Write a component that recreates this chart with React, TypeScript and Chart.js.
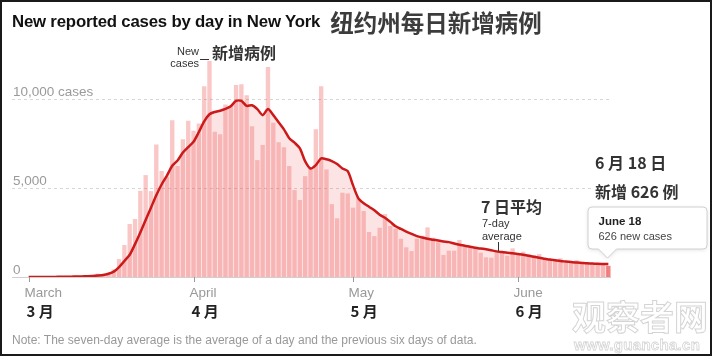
import React, { useEffect, useRef } from 'react';
import { Chart, registerables } from 'chart.js';

Chart.register(...registerables);

// ---------- data ----------
const monthNames: string[] = ['Mar', 'Apr', 'May', 'Jun'];
const monthDayCounts: number[] = [31, 30, 31, 18];
const monthLabelsEn: string[] = ['March', 'April', 'May', 'June'];
const monthLabelsZh: string[] = ['3 月', '4 月', '5 月', '6 月'];

const newCases: number[] = [
  0, 0, 1, 9, 11, 22, 45, 17, 36, 31,
  44, 108, 95, 190, 122, 218, 430, 1010, 1800, 2980,
  3260, 4850, 5730, 4830, 7450, 5960, 5640, 8820, 6240, 7750,
  8780, 8220, 8630, 10730, 12150, 8160, 8020, 9700, 9570, 10790,
  10840, 10220, 8480, 6570, 7415, 11810, 8670, 7570, 7290, 6240,
  4890, 4330, 5670, 6100, 8310, 10730, 6050, 4100, 3300, 4740,
  4700, 3900, 4420, 3710, 2530, 2300, 2770, 3540, 2870, 2720,
  2150, 1670, 1460, 2150, 2320, 2790, 2210, 1950, 1240, 1480,
  1480, 2080, 1780, 1740, 1610, 1370, 1110, 1085, 1420, 1460,
  1200, 1610, 1330, 1420, 1275, 1220, 1290, 1000, 950, 900,
  1050, 900, 800, 950, 850, 800, 780, 750, 700, 626,
];

const sevenDayAvg: number[] = [
  0, 0, 0, 1, 3, 6, 13, 15, 20, 24,
  31, 43, 57, 80, 110, 180, 300, 560, 900, 1250,
  1850, 2500, 3200, 3900, 4600, 5200, 5700, 6250, 6550, 7000,
  7300, 7600, 8150, 8750, 9150, 9280, 9350, 9450, 9600, 9900,
  9900, 9620, 9660, 9440, 9100, 9440, 9100, 8700, 8300, 7800,
  7550, 7230, 6500, 6100, 6290, 6670, 6620, 6520, 6350, 6100,
  5950, 5150, 4420, 4150, 3950, 3750, 3500, 3330, 3100, 2850,
  2700, 2550, 2420, 2300, 2220, 2150, 2100, 2050, 2000, 1960,
  1880, 1810, 1760, 1700, 1650, 1600, 1560, 1500, 1440, 1400,
  1360, 1330, 1290, 1250, 1200, 1140, 1080, 1030, 980, 940,
  900, 870, 840, 810, 790, 770, 760, 740, 735, 730,
];

const yTicks: number[] = [0, 5000, 10000];
const yTickLabels: string[] = ['0', '5,000', '10,000 cases'];

const labels: string[] = [];
monthNames.forEach((m, k) => {
  for (let d = 1; d <= monthDayCounts[k]; d++) labels.push(`${m} ${d}`);
});
const monthStartIdx: number[] = monthNames.map((m) => labels.indexOf(`${m} 1`));

const SANS = '"Liberation Sans", Arial, Helvetica, sans-serif';
const CJK = '"Noto Sans CJK SC", "Noto Sans CJK TC", sans-serif';

const BAR = 'rgba(240,90,90,0.34)';
const BAR_HI = 'rgba(236,80,80,0.72)';
const LINE = '#cc1a1a';
const AREA = 'rgba(240,90,90,0.16)';

const decor = {
  id: 'decor',
  beforeDatasetsDraw(chart: any) {
    const { ctx, chartArea } = chart;
    const y = chart.scales.y;
    ctx.save();
    const left = 12;
    const right = chartArea.right;
    yTicks.forEach((v, k) => {
      const py = Math.round(y.getPixelForValue(v)) + 0.5;
      ctx.beginPath();
      ctx.lineWidth = 1;
      if (v === 0) {
        ctx.setLineDash([]);
        ctx.strokeStyle = '#cfcfcf';
      } else {
        ctx.setLineDash([3, 3]);
        ctx.strokeStyle = '#d6d6d6';
      }
      ctx.moveTo(left, py);
      ctx.lineTo(right, py);
      ctx.stroke();
      ctx.setLineDash([]);
      ctx.fillStyle = '#9a9a9a';
      ctx.font = `13.5px ${SANS}`;
      ctx.textAlign = 'left';
      ctx.textBaseline = 'alphabetic';
      ctx.fillText(yTickLabels[k], left + 1, py - 4);
    });
    ctx.restore();
  },
  afterDatasetsDraw(chart: any) {
    const { ctx } = chart;
    const x = chart.scales.x;
    const y = chart.scales.y;
    const base = Math.round(y.getPixelForValue(0));
    ctx.save();

    // month ticks + labels
    monthStartIdx.forEach((idx, k) => {
      const px = Math.round(x.getPixelForValue(idx)) + 0.5;
      ctx.beginPath();
      ctx.strokeStyle = '#999';
      ctx.lineWidth = 1;
      ctx.moveTo(px, base);
      ctx.lineTo(px, base + 5);
      ctx.stroke();
      ctx.textAlign = 'left';
      ctx.textBaseline = 'middle';
      ctx.fillStyle = '#999';
      ctx.font = `13.5px ${SANS}`;
      ctx.fillText(monthLabelsEn[k], px - 5, base + 16);
      ctx.fillStyle = '#222';
      ctx.font = `bold 15px ${CJK}`;
      ctx.fillText(monthLabelsZh[k], px - 3, base + 34.5);
    });

    // "New cases" annotation
    ctx.fillStyle = '#333';
    ctx.font = `11px ${SANS}`;
    ctx.textAlign = 'right';
    ctx.textBaseline = 'middle';
    ctx.fillText('New', 199, 52);
    ctx.fillText('cases', 199, 64);
    ctx.beginPath();
    ctx.strokeStyle = '#333';
    ctx.moveTo(200, 59.5);
    ctx.lineTo(209, 59.5);
    ctx.stroke();
    ctx.textAlign = 'left';
    ctx.font = `bold 16px ${CJK}`;
    ctx.fillText('新增病例', 212, 53);

    // 7-day average annotation
    const ai = 88;
    const ax = Math.round(x.getPixelForValue(ai)) + 1.5;
    const ay = y.getPixelForValue(sevenDayAvg[ai]);
    ctx.font = `bold 16px ${CJK}`;
    ctx.fillStyle = '#333';
    ctx.fillText('7 日平均', 481, 207);
    ctx.font = `11px ${SANS}`;
    ctx.fillText('7-day', 482, 224);
    ctx.fillText('average', 482, 237);
    ctx.beginPath();
    ctx.moveTo(ax, 242);
    ctx.lineTo(ax, ay);
    ctx.stroke();

    // last day annotation
    const li = newCases.length - 1;
    ctx.font = `bold 16px ${CJK}`;
    const t2 = `新增 ${newCases[li]} 例`;
    const w2 = ctx.measureText(t2).width;
    ctx.fillStyle = '#fff';
    ctx.fillRect(592, 181, w2 + 6, 22);
    ctx.fillStyle = '#333';
    ctx.fillText('6 月 18 日', 595, 163);
    ctx.fillText(t2, 595, 192);

    // tooltip
    const bx = x.getPixelForValue(li);
    const by = y.getPixelForValue(newCases[li]);
    const tipX = Math.round(bx) - 0.5;
    const tipY = Math.round(by) - 8;
    const boxL = tipX - 19.5;
    const boxW = 119;
    const boxB = tipY - 9;
    const boxT = boxB - 42;
    const r = 4;
    ctx.save();
    ctx.beginPath();
    ctx.moveTo(boxL + r, boxT);
    ctx.lineTo(boxL + boxW - r, boxT);
    ctx.quadraticCurveTo(boxL + boxW, boxT, boxL + boxW, boxT + r);
    ctx.lineTo(boxL + boxW, boxB - r);
    ctx.quadraticCurveTo(boxL + boxW, boxB, boxL + boxW - r, boxB);
    ctx.lineTo(tipX + 9, boxB);
    ctx.lineTo(tipX, tipY);
    ctx.lineTo(tipX - 9, boxB);
    ctx.lineTo(boxL + r, boxB);
    ctx.quadraticCurveTo(boxL, boxB, boxL, boxB - r);
    ctx.lineTo(boxL, boxT + r);
    ctx.quadraticCurveTo(boxL, boxT, boxL + r, boxT);
    ctx.closePath();
    ctx.shadowColor = 'rgba(0,0,0,0.12)';
    ctx.shadowBlur = 4;
    ctx.shadowOffsetY = 1;
    ctx.fillStyle = '#fff';
    ctx.fill();
    ctx.shadowColor = 'transparent';
    ctx.strokeStyle = '#d0d0d0';
    ctx.lineWidth = 1;
    ctx.stroke();
    ctx.restore();
    ctx.textAlign = 'left';
    ctx.textBaseline = 'middle';
    ctx.fillStyle = '#222';
    ctx.font = `bold 11.5px ${SANS}`;
    ctx.fillText(labels[li].replace('Jun', 'June'), boxL + 10.5, boxT + 15);
    ctx.fillStyle = '#444';
    ctx.font = `11px ${SANS}`;
    ctx.fillText(`${newCases[li]} new cases`, boxL + 10.5, boxT + 30);

    ctx.restore();
  },
};

export default function App() {
  const canvasRef = useRef<HTMLCanvasElement | null>(null);

  useEffect(() => {
    const canvas = canvasRef.current;
    if (!canvas) return;
    const barColors = newCases.map((_, i) => (i === newCases.length - 1 ? BAR_HI : BAR));
    const chart = new Chart(canvas, {
      type: 'bar',
      data: {
        labels,
        datasets: [
          {
            type: 'line',
            data: sevenDayAvg,
            borderColor: LINE,
            borderWidth: 2.5,
            pointRadius: 0,
            fill: 'origin',
            backgroundColor: AREA,
            tension: 0.25,
            borderJoinStyle: 'round',
            order: 0,
          } as any,
          {
            type: 'bar',
            data: newCases,
            backgroundColor: barColors,
            barPercentage: 0.82,
            categoryPercentage: 1,
            order: 1,
          } as any,
        ],
      },
      options: {
        animation: false,
        responsive: false,
        events: [],
        layout: { padding: { left: 26, right: 101, top: 28, bottom: 79 } },
        scales: {
          x: { display: false, offset: true },
          y: { display: false, min: 0, max: 14000 },
        },
        plugins: {
          legend: { display: false },
          tooltip: { enabled: false },
        },
      },
      plugins: [decor as any],
    });
    return () => chart.destroy();
  }, []);

  return (
    <div style={{ position: 'absolute', left: 0, top: 0, width: 712, height: 356, background: '#fff', overflow: 'hidden' }}>
      <canvas ref={canvasRef} width={712} height={356} style={{ position: 'absolute', left: 0, top: 0 }} />
      <div
        style={{
          position: 'absolute',
          left: 12,
          top: 5,
          whiteSpace: 'nowrap',
          display: 'flex',
          alignItems: 'center',
        }}
      >
        <span style={{ fontFamily: SANS, fontWeight: 700, fontSize: 16.8, color: '#121212', letterSpacing: -0.2 }}>
          New reported cases by day in New York
        </span>
        <span style={{ fontFamily: CJK, fontWeight: 700, fontSize: 23.5, color: '#3c3c3c', marginLeft: 10 }}>
          纽约州每日新增病例
        </span>
      </div>
      <div
        style={{
          position: 'absolute',
          left: 12,
          top: 333,
          fontFamily: SANS,
          fontSize: 12,
          color: '#999',
          whiteSpace: 'nowrap',
        }}
      >
        Note: The seven-day average is the average of a day and the previous six days of data.
      </div>
      <div
        style={{
          position: 'absolute',
          left: 572,
          top: 296,
          fontFamily: CJK,
          fontWeight: 700,
          fontSize: 34,
          color: 'rgba(255,255,255,0.85)',
          WebkitTextStroke: '1px rgba(160,160,160,0.45)',
          whiteSpace: 'nowrap',
          lineHeight: '40px',
        }}
      >
        观察者网
      </div>
      <div
        style={{
          position: 'absolute',
          left: 574,
          top: 336,
          fontFamily: SANS,
          fontWeight: 700,
          fontSize: 15,
          color: 'rgba(255,255,255,0.85)',
          WebkitTextStroke: '0.8px rgba(160,160,160,0.45)',
          whiteSpace: 'nowrap',
          letterSpacing: 0.3,
        }}
      >
        www.guancha.cn
      </div>
      <div
        style={{
          position: 'absolute',
          left: 0,
          top: 0,
          width: 712,
          height: 356,
          boxSizing: 'border-box',
          border: '2px solid #1a1a1a',
          pointerEvents: 'none',
        }}
      />
    </div>
  );
}
